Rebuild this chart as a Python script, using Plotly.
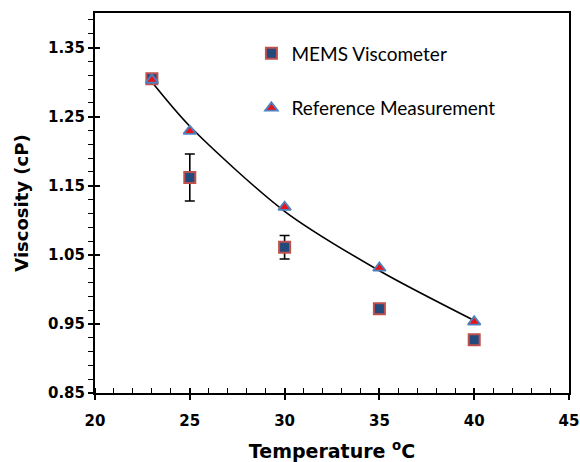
import plotly.graph_objects as go

temps = [23, 25, 30, 35, 40]
mems = [1.305, 1.162, 1.061, 0.972, 0.927]
mems_err = [0.003, 0.034, 0.017, 0.005, 0.003]
reference = [1.303, 1.229, 1.119, 1.031, 0.953]
fit_x = [23, 25, 30, 35, 40]
fit_y = [1.300, 1.236, 1.113, 1.027, 0.955]

x_ticks = [20, 25, 30, 35, 40, 45]
y_ticks = [0.85, 0.95, 1.05, 1.15, 1.25, 1.35]

fig = go.Figure()

fig.add_trace(go.Scatter(
    x=fit_x, y=fit_y, mode="lines", line=dict(color="black", width=1.6, shape="spline", smoothing=0.8),
    showlegend=False, hoverinfo="skip"))

fig.add_trace(go.Scatter(
    x=temps, y=mems, mode="markers", name="MEMS Viscometer", legendgroup="a",
    marker=dict(symbol="square", size=11, color="#234A7C", line=dict(color="#C0504D", width=2)),
    error_y=dict(type="data", array=mems_err, visible=True, color="black", thickness=1.6, width=5)))

fig.add_trace(go.Scatter(
    x=temps, y=reference, mode="markers", name="Reference Measurement", legendgroup="b",
    marker=dict(symbol="triangle-up", size=11, color="#E8141C", line=dict(color="#4F81BD", width=1.8))))

# secondary axes for inward half of crossing major ticks
fig.add_trace(go.Scatter(x=[None], y=[None], xaxis="x2", yaxis="y2", showlegend=False, hoverinfo="skip"))

tickfont = dict(family="DejaVu Sans", size=15, color="black")
xtitlefont = dict(family="DejaVu Sans", size=19, color="black")
ytitlefont = dict(family="DejaVu Sans", size=18, color="black")

fig.update_layout(
    width=580, height=462,
    margin=dict(l=95, r=11, t=13, b=69, autoexpand=False),
    paper_bgcolor="white", plot_bgcolor="white",
    font=dict(family="DejaVu Sans", color="black"),
    xaxis=dict(range=[20, 45], tickvals=x_ticks, ticktext=[f"<b>{v}</b>" for v in x_ticks],
               ticks="outside", ticklen=5, tickwidth=1.6, automargin=False, ticklabelstandoff=8,
               tickcolor="black", showline=True, linecolor="black", linewidth=2, mirror=True,
               showgrid=False, zeroline=False, tickfont=tickfont,
               minor=dict(dtick=1, ticks="inside", ticklen=5, tickwidth=1.2, tickcolor="black", showgrid=False),
               title=dict(text="<b>Temperature <sup>o</sup>C</b>", font=xtitlefont, standoff=20)),
    yaxis=dict(range=[0.85, 1.40], tickvals=y_ticks, ticktext=[f"<b>{v:.2f}</b>" for v in y_ticks],
               ticks="outside", ticklen=5, tickwidth=1.6, automargin=False,
               tickcolor="black", showline=True, linecolor="black", linewidth=2, mirror=True,
               showgrid=False, zeroline=False, tickfont=tickfont,
               minor=dict(tick0=0.85, dtick=0.02, ticks="outside", ticklen=5, tickwidth=1.2, tickcolor="black", showgrid=False),
               title=dict(text="<b>Viscosity (cP)</b>", font=ytitlefont, standoff=15)),
    xaxis2=dict(range=[20, 45], tickvals=x_ticks, ticks="inside", ticklen=5, tickwidth=1.6, tickcolor="black",
                showticklabels=False, showline=False, showgrid=False, zeroline=False, automargin=False,
                overlaying="x", anchor="y2", side="bottom"),
    yaxis2=dict(range=[0.85, 1.40], tickvals=y_ticks, ticks="inside", ticklen=5, tickwidth=1.6, tickcolor="black",
                showticklabels=False, showline=False, showgrid=False, zeroline=False, automargin=False,
                overlaying="y", anchor="x2", side="left"),
    legend=dict(x=0.33, y=0.944, xanchor="left", yanchor="top", bgcolor="rgba(0,0,0,0)",
                font=dict(family="Lato", size=19, color="black"), tracegroupgap=27),
)

fig.write_html("out.html", config={"displayModeBar": False},
               post_script="document.body.style.margin='0';document.body.style.padding='0';")
